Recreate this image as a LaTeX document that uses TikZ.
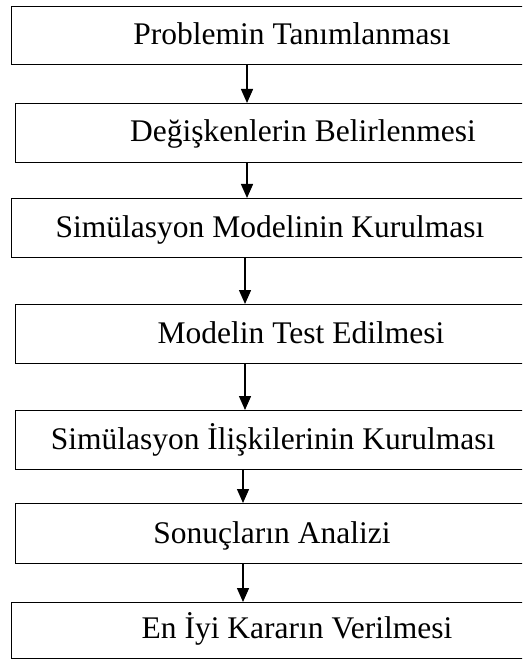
\documentclass[tikz,border=0pt]{standalone}
\usepackage{fontspec}
\setmainfont{Liberation Serif}
\usetikzlibrary{arrows.meta}
\begin{document}
\begin{tikzpicture}[x=1pt,y=-1pt,
  boxstyle/.style={draw=black,line width=1.3pt,fill=white,inner sep=0pt,anchor=north west,minimum width=600pt},
  lbl/.style={font=\fontsize{31.5}{36}\selectfont,inner sep=0pt,anchor=base},
  flow/.style={line width=1.4pt,-{Triangle[width=12pt,length=14pt]}}]
\useasboundingbox (0,0) rectangle (522,660);
\clip (0,0) rectangle (522,660);
% boxes
\node[boxstyle,minimum height=58pt] (b1) at (11,6) {};
\node[boxstyle,minimum height=59pt] (b2) at (15,103) {};
\node[boxstyle,minimum height=59pt] (b3) at (11,198) {};
\node[boxstyle,minimum height=59pt] (b4) at (15,304) {};
\node[boxstyle,minimum height=59pt] (b5) at (15,410) {};
\node[boxstyle,minimum height=60pt] (b6) at (15,503) {};
\node[boxstyle,minimum height=56pt] (b7) at (11,602) {};
% labels
\node[lbl] (t1) at (292,45) {Problemin Tanımlanması};
\node[lbl] (t2) at (303,142) {Değişkenlerin Belirlenmesi};
\node[lbl] (t3) at (270,237) {Simülasyon Modelinin Kurulması};
\node[lbl] (t4) at (301,343) {Modelin Test Edilmesi};
\node[lbl] (t5) at (273,449) {Simülasyon İlişkilerinin Kurulması};
\node[lbl] (t6) at (272,543) {Sonuçların Analizi};
\node[lbl] (t7) at (297,638) {En İyi Kararın Verilmesi};
% arrow columns
\coordinate (c1) at (247,0);
\coordinate (c2) at (247,0);
\coordinate (c3) at (245,0);
\coordinate (c4) at (245,0);
\coordinate (c5) at (243,0);
\coordinate (c6) at (243,0);
\draw[flow] (b1.south -| c1) -- (b2.north -| c1);
\draw[flow] (b2.south -| c2) -- (b3.north -| c2);
\draw[flow] (b3.south -| c3) -- (b4.north -| c3);
\draw[flow] (b4.south -| c4) -- (b5.north -| c4);
\draw[flow] (b5.south -| c5) -- (b6.north -| c5);
\draw[flow] (b6.south -| c6) -- (b7.north -| c6);
\end{tikzpicture}
\end{document}
